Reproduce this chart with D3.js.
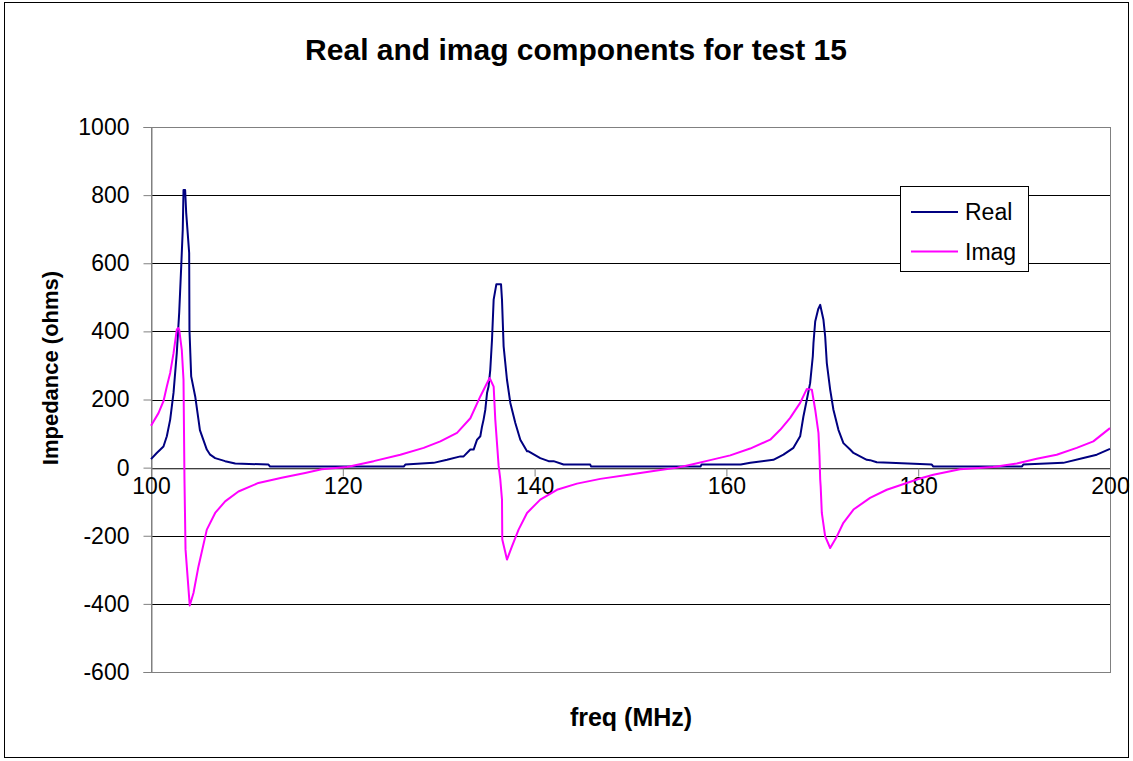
<!DOCTYPE html>
<html>
<head>
<meta charset="utf-8">
<script src="https://cdn.jsdelivr.net/npm/d3@7"></script>
<style>
  html, body { margin: 0; padding: 0; background: #fff; }
  svg { display: block; }
  text { font-family: Arial, "Liberation Sans", sans-serif; }
</style>
</head>
<body>
<svg id="chart" width="1133" height="761"></svg>
<script>
// ---- data ----
const chartTitle = "Real and imag components for test 15";
const xTitle = "freq (MHz)";
const yTitle = "Impedance (ohms)";
const seriesNames = ["Real", "Imag"];
const xTicks = [100, 120, 140, 160, 180, 200];
const yTicks = [-600, -400, -200, 0, 200, 400, 600, 800, 1000];

const realFreq = [100.0, 100.6, 101.3, 101.65, 102.0, 102.35, 102.69, 102.94, 103.15, 103.31, 103.39, 103.56, 103.67, 103.98, 104.01, 104.19, 104.61, 104.95, 105.1, 105.45, 105.82, 106.17, 106.69, 107.73, 108.78, 112.25, 112.42, 126.35, 126.52, 129.47, 130.87, 132.26, 132.6, 133.3, 133.64, 134.0, 134.34, 134.52, 134.68, 134.86, 135.04, 135.2, 135.38, 135.56, 135.73, 136.01, 136.5, 136.6, 136.77, 137.12, 137.47, 137.99, 138.51, 139.21, 139.37, 140.59, 141.46, 141.98, 143.02, 145.8, 145.9, 157.3, 157.4, 161.5, 162.5, 164.9, 165.95, 166.99, 167.69, 168.03, 168.39, 168.73, 169.01, 169.08, 169.26, 169.57, 169.78, 169.88, 170.12, 170.3, 170.47, 170.82, 171.16, 171.68, 172.2, 172.9, 173.25, 173.94, 174.64, 174.98, 175.68, 177.06, 181.42, 181.58, 190.8, 190.96, 195.13, 197.22, 198.62, 200.0];
const realVal = [25, 43, 62, 92, 141, 220, 337, 455, 590, 698, 815, 815, 748, 630, 405, 268, 209, 141, 110, 82, 53, 38, 28, 19, 12, 9, 3, 3, 9, 14, 23, 33, 33, 53, 53, 82, 92, 121, 141, 170, 219, 238, 288, 376, 493, 538, 538, 493, 356, 258, 190, 131, 82, 48, 48, 28, 19, 19, 9, 9, 3, 3, 9, 9, 14, 23, 38, 58, 92, 150, 200, 248, 327, 366, 429, 465, 478, 465, 434, 385, 307, 229, 170, 111, 72, 53, 43, 33, 23, 22, 16, 14, 9, 3, 3, 9, 14, 28, 38, 55];

const imagFreq = [100.0, 100.78, 101.3, 101.65, 102.0, 102.35, 102.69, 102.83, 102.94, 103.21, 103.39, 103.49, 103.6, 104.04, 104.43, 104.95, 105.82, 106.69, 107.73, 109.12, 111.2, 113.63, 116.07, 117.8, 120.45, 123.22, 126.0, 128.43, 130.17, 131.91, 133.3, 134.34, 134.86, 135.31, 135.73, 135.9, 136.25, 136.42, 136.6, 136.63, 137.12, 137.64, 138.33, 139.21, 140.59, 142.33, 144.42, 146.85, 149.97, 152.58, 154.9, 156.5, 158.31, 160.4, 162.48, 164.57, 165.61, 166.65, 167.69, 168.39, 168.91, 169.26, 169.6, 169.71, 169.78, 169.83, 169.95, 170.3, 170.82, 171.52, 172.2, 173.25, 174.98, 176.72, 180.19, 181.58, 184.36, 187.84, 190.28, 192.36, 194.44, 196.53, 198.26, 200.0];
const imagVal = [123, 160, 195, 238, 278, 336, 405, 410, 405, 346, 258, -35, -240, -405, -368, -290, -182, -133, -99, -70, -45, -30, -16, -5, 2, 19, 38, 58, 77, 102, 145, 209, 238, 263, 238, 141, 5, -34, -94, -211, -270, -231, -182, -133, -94, -65, -47, -33, -20, -9, 0, 10, 22, 36, 56, 82, 111, 146, 190, 231, 229, 170, 102, 33, -34, -55, -133, -202, -236, -202, -162, -123, -89, -65, -32, -21, -5, 2, 12, 26, 38, 58, 77, 116];

const realColor = "#000080";
const imagColor = "#FF00FF";

// ---- drawing ----
const svg = d3.select("#chart");
const plot = { left: 151, right: 1110, top: 127, bottom: 672 };

const x = d3.scaleLinear().domain([100, 200]).range([plot.left, plot.right]);
const y = d3.scaleLinear().domain([-600, 1000]).range([plot.bottom, plot.top]);
const fmt = d => String(d);

// outer frame
svg.append("rect").attr("x", 4.5).attr("y", 2.5).attr("width", 1124).attr("height", 755)
  .attr("fill", "#fff").attr("stroke", "#000").attr("stroke-width", 1);

// gridlines
svg.append("g").selectAll("line").data(yTicks).join("line")
  .attr("x1", plot.left).attr("x2", plot.right)
  .attr("y1", d => Math.round(y(d)) + 0.5).attr("y2", d => Math.round(y(d)) + 0.5)
  .attr("stroke", "#000").attr("stroke-width", 1);

// plot border
svg.append("rect").attr("x", plot.left + 0.5).attr("y", plot.top + 0.5)
  .attr("width", plot.right - plot.left).attr("height", plot.bottom - plot.top)
  .attr("fill", "none").attr("stroke", "#808080").attr("stroke-width", 1);

// y axis
const yAxis = d3.axisLeft(y).tickValues(yTicks).tickSize(8).tickPadding(14).tickFormat(fmt);
const gy = svg.append("g").attr("transform", `translate(${plot.left + 0.5},0)`).call(yAxis);
gy.select(".domain").attr("stroke", "#808080");
gy.selectAll(".tick line").attr("stroke", "#808080");
gy.selectAll(".tick text").attr("font-size", 23).attr("fill", "#000").attr("font-family", "Arial, 'Liberation Sans', sans-serif");

// x axis at y = 0
const xAxis = d3.axisBottom(x).tickValues(xTicks).tickSize(8).tickPadding(1).tickFormat(fmt);
const gx = svg.append("g").attr("transform", `translate(0,${Math.round(y(0)) + 0.5})`).call(xAxis);
gx.select(".domain").attr("stroke", "#808080");
gx.selectAll(".tick line").attr("stroke", "#808080");
gx.selectAll(".tick text").attr("font-size", 23).attr("fill", "#000").attr("font-family", "Arial, 'Liberation Sans', sans-serif");

// series
const line = d3.line().x(d => x(d[0])).y(d => y(d[1]));
const realData = realFreq.map((f, i) => [f, realVal[i]]);
const imagData = imagFreq.map((f, i) => [f, imagVal[i]]);

svg.append("path").datum(realData).attr("d", line)
  .attr("fill", "none").attr("stroke", realColor).attr("stroke-width", 2).attr("stroke-linejoin", "round");
svg.append("path").datum(imagData).attr("d", line)
  .attr("fill", "none").attr("stroke", imagColor).attr("stroke-width", 2).attr("stroke-linejoin", "round");

// titles
svg.append("text").attr("x", 576).attr("y", 60).attr("text-anchor", "middle")
  .attr("font-size", 30).attr("font-weight", "bold").text(chartTitle);
svg.append("text").attr("x", 631).attr("y", 726).attr("text-anchor", "middle")
  .attr("font-size", 25).attr("font-weight", "bold").text(xTitle);
svg.append("text").attr("transform", "translate(58,368) rotate(-90)").attr("text-anchor", "middle")
  .attr("font-size", 22).attr("font-weight", "bold").text(yTitle);

// legend
const lg = svg.append("g");
lg.append("rect").attr("x", 900.5).attr("y", 186.5).attr("width", 128).attr("height", 85)
  .attr("fill", "#fff").attr("stroke", "#000").attr("stroke-width", 1);
const colors = [realColor, imagColor];
seriesNames.forEach((name, i) => {
  const ly = 212 + i * 39.5;
  lg.append("line").attr("x1", 911).attr("x2", 958).attr("y1", ly).attr("y2", ly)
    .attr("stroke", colors[i]).attr("stroke-width", 2);
  lg.append("text").attr("x", 965).attr("y", ly + 8).attr("font-size", 23).text(name);
});
</script>
</body>
</html>
